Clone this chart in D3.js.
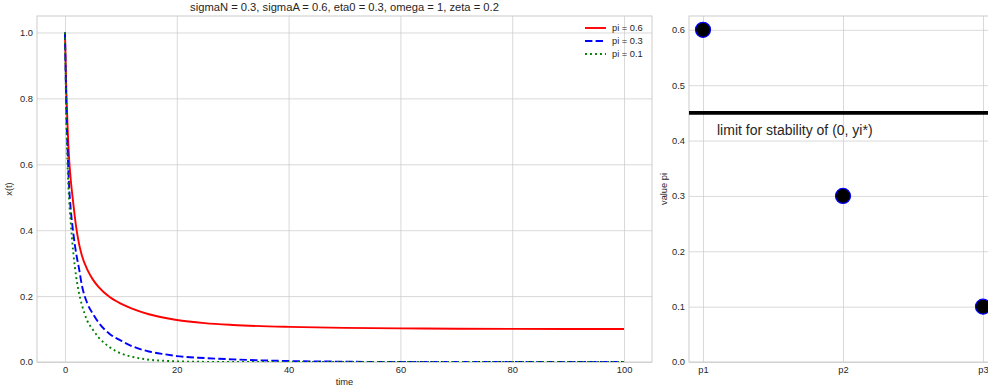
<!DOCTYPE html>
<html>
<head>
<meta charset="utf-8">
<script src="https://cdn.jsdelivr.net/npm/d3@7"></script>
<style>
  body { margin: 0; background: #fff; }
  svg { display: block; font-family: "Liberation Sans", Arial, sans-serif; }
</style>
</head>
<body>
<div id="chart"></div>
<script>
// left panel: x(t) for three values of pi
const time = [0, 0.25, 0.5, 0.75, 1, 1.5, 2, 2.5, 3, 4, 5, 6, 8, 10, 12, 15, 18, 20, 25, 30, 40, 50, 60, 70, 80, 90, 100];
const xPi06 = [1.0, 0.82, 0.70, 0.615, 0.56, 0.48, 0.41, 0.36, 0.325, 0.28, 0.25, 0.228, 0.197, 0.177, 0.162, 0.145, 0.1335, 0.1275, 0.118, 0.1125, 0.1065, 0.1035, 0.102, 0.101, 0.1005, 0.1, 0.1];
const xPi03 = [1.0, 0.77, 0.63, 0.53, 0.47, 0.39, 0.33, 0.285, 0.235, 0.178, 0.146, 0.12, 0.085, 0.065, 0.048, 0.032, 0.023, 0.018, 0.012, 0.008, 0.003, 0.001, 0, 0, 0, 0, 0];
const xPi01 = [1.0, 0.74, 0.58, 0.49, 0.43, 0.33, 0.26, 0.21, 0.175, 0.125, 0.098, 0.075, 0.045, 0.026, 0.016, 0.007, 0.0035, 0.002, 0.0005, 0, 0, 0, 0, 0, 0, 0, 0];
const seriesNames = ['pi = 0.6', 'pi = 0.3', 'pi = 0.1'];
const timeTicks = [0, 20, 40, 60, 80, 100];
const xTicks = [0, 0.2, 0.4, 0.6, 0.8, 1.0];

// right panel: pi values and the stability limit
const piLabels = ['p1', 'p2', 'p3'];
const piValues = [0.6, 0.3, 0.1];
const piTicks = [0, 0.1, 0.2, 0.3, 0.4, 0.5, 0.6];
const stabilityLimit = 0.45;

const title = 'sigmaN = 0.3, sigmaA = 0.6, eta0 = 0.3, omega = 1, zeta = 0.2';

const width = 988;
const height = 390;
const tickFont = 9.3;
const textColor = '#262626';
const gridColor = '#cccccc';

const svg = d3.select('#chart')
  .append('svg')
  .attr('width', width)
  .attr('height', height);

function styleAxis(g) {
  g.select('.domain').remove();
  g.selectAll('text')
    .attr('fill', textColor)
    .attr('font-size', tickFont)
    .attr('font-family', '"Liberation Sans", Arial, sans-serif');
}

function grid(g, axis) {
  g.call(axis.tickFormat(''));
  g.select('.domain').remove();
  g.selectAll('line').attr('stroke', gridColor).attr('stroke-width', 0.75);
}

// ---------- left panel ----------
const L = { left: 37, top: 16, right: 652, bottom: 362 };
const lw = L.right - L.left;
const lh = L.bottom - L.top;

const x = d3.scaleLinear().domain([-5, 105]).range([0, lw]);
const y = d3.scaleLinear().domain([0, 1.05]).range([lh, 0]);

const left = svg.append('g')
  .attr('transform', `translate(${L.left}, ${L.top})`);

left.append('g')
  .attr('transform', `translate(0, ${lh})`)
  .call(g => grid(g, d3.axisBottom(x).tickValues(timeTicks).tickSize(-lh)));
left.append('g')
  .call(g => grid(g, d3.axisLeft(y).tickValues(xTicks).tickSize(-lw)));

left.append('rect')
  .attr('width', lw)
  .attr('height', lh)
  .attr('fill', 'none')
  .attr('stroke', gridColor)
  .attr('stroke-width', 1);

left.append('defs').append('clipPath')
  .attr('id', 'clip-left')
  .append('rect')
  .attr('width', lw)
  .attr('height', lh);

const series = [
  { name: seriesNames[0], values: xPi06, color: '#ff0000', dash: null },
  { name: seriesNames[1], values: xPi03, color: '#0000ff', dash: '7.4,3.2' },
  { name: seriesNames[2], values: xPi01, color: '#008000', dash: '1.9,3.1' }
];

const line = d3.line()
  .x(d => x(d[0]))
  .y(d => y(d[1]))
  .curve(d3.curveMonotoneX);

left.append('g')
  .attr('clip-path', 'url(#clip-left)')
  .selectAll('path')
  .data(series)
  .enter()
  .append('path')
  .attr('d', d => line(time.map((t, i) => [t, d.values[i]])))
  .attr('fill', 'none')
  .attr('stroke', d => d.color)
  .attr('stroke-width', 1.9)
  .attr('stroke-dasharray', d => d.dash);

left.append('g')
  .attr('transform', `translate(0, ${lh})`)
  .call(d3.axisBottom(x).tickValues(timeTicks).tickSize(0).tickPadding(4).tickFormat(d3.format('d')))
  .call(styleAxis);

left.append('g')
  .call(d3.axisLeft(y).tickValues(xTicks).tickSize(0).tickPadding(4).tickFormat(d3.format('.1f')))
  .call(styleAxis);

left.append('text')
  .attr('x', lw / 2)
  .attr('y', -5)
  .attr('text-anchor', 'middle')
  .attr('font-size', 11.2)
  .attr('fill', textColor)
  .text(title);

left.append('text')
  .attr('x', lw / 2)
  .attr('y', lh + 23)
  .attr('text-anchor', 'middle')
  .attr('font-size', tickFont)
  .attr('fill', textColor)
  .text('time');

left.append('text')
  .attr('transform', `translate(${-25}, ${lh / 2}) rotate(-90)`)
  .attr('text-anchor', 'middle')
  .attr('font-size', tickFont)
  .attr('fill', textColor)
  .text('x(t)');

// legend, top right, no frame
const legend = left.append('g')
  .attr('transform', `translate(${548}, ${12})`)
  .selectAll('g')
  .data(series)
  .enter()
  .append('g')
  .attr('transform', (d, i) => `translate(0, ${i * 13})`);

legend.append('line')
  .attr('x1', 0)
  .attr('x2', 21)
  .attr('stroke', d => d.color)
  .attr('stroke-width', 1.9)
  .attr('stroke-dasharray', d => d.dash);

legend.append('text')
  .attr('x', 27)
  .attr('dy', '0.35em')
  .attr('font-size', tickFont)
  .attr('fill', textColor)
  .text(d => d.name);

// ---------- right panel ----------
const R = { left: 689, top: 16, bottom: 362 };
const rw = 308;
const rh = R.bottom - R.top;

// p1..p3 sit 140px apart, with a 0.1-step margin on each side
const px = d3.scalePoint().domain(piLabels).range([14, 294]);
const py = d3.scaleLinear().domain([0, 0.625]).range([rh, 0]);

const right = svg.append('g')
  .attr('transform', `translate(${R.left}, ${R.top})`);

right.append('g')
  .attr('transform', `translate(0, ${rh})`)
  .call(g => grid(g, d3.axisBottom(px).tickSize(-rh)));
right.append('g')
  .call(g => grid(g, d3.axisLeft(py).tickValues(piTicks).tickSize(-rw)));

right.append('rect')
  .attr('width', rw)
  .attr('height', rh)
  .attr('fill', 'none')
  .attr('stroke', gridColor)
  .attr('stroke-width', 1);

right.append('line')
  .attr('x1', 0)
  .attr('x2', rw)
  .attr('y1', py(stabilityLimit))
  .attr('y2', py(stabilityLimit))
  .attr('stroke', '#000')
  .attr('stroke-width', 3.7);

right.append('text')
  .attr('x', px(piLabels[0]) + 14)
  .attr('y', py(0.41))
  .attr('font-size', 14)
  .attr('fill', textColor)
  .text('limit for stability of (0, yi*)');

right.append('g')
  .selectAll('circle')
  .data(piValues)
  .enter()
  .append('circle')
  .attr('cx', (d, i) => px(piLabels[i]))
  .attr('cy', d => py(d))
  .attr('r', 7.5)
  .attr('fill', '#000')
  .attr('stroke', '#0000ff')
  .attr('stroke-width', 1.2);

right.append('g')
  .attr('transform', `translate(0, ${rh})`)
  .call(d3.axisBottom(px).tickSize(0).tickPadding(4))
  .call(styleAxis);

right.append('g')
  .call(d3.axisLeft(py).tickValues(piTicks).tickSize(0).tickPadding(4).tickFormat(d3.format('.1f')))
  .call(styleAxis);

right.append('text')
  .attr('transform', `translate(${-22}, ${rh / 2}) rotate(-90)`)
  .attr('text-anchor', 'middle')
  .attr('font-size', tickFont)
  .attr('fill', textColor)
  .text('value pi');
</script>
</body>
</html>
